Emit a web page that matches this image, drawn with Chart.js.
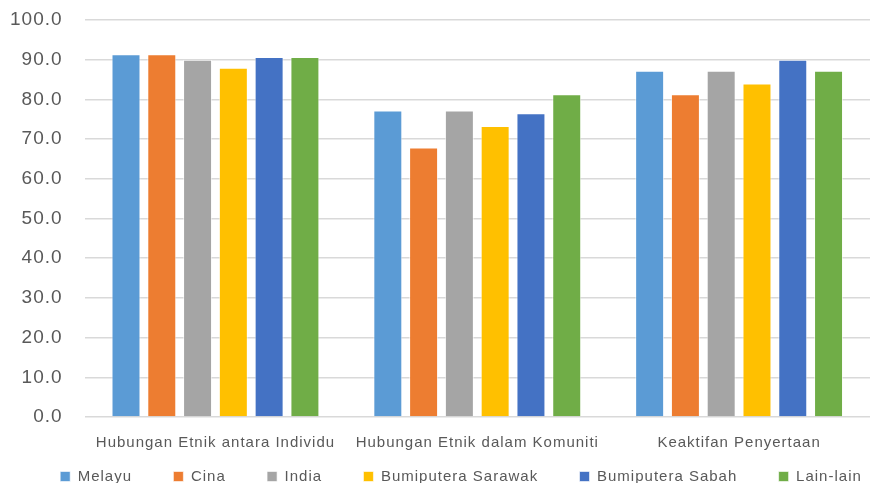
<!DOCTYPE html>
<html>
<head>
<meta charset="utf-8">
<script src="https://cdn.jsdelivr.net/npm/chart.js@4/dist/chart.umd.min.js"></script>
<style>
  html, body { margin: 0; padding: 0; background: #fff; }
  #wrap { width: 877px; height: 483px; }
</style>
</head>
<body>
<div id="wrap"><canvas id="chart"></canvas></div>
<script>
// categories and series
var categories = ['Hubungan Etnik antara Individu', 'Hubungan Etnik dalam Komuniti', 'Keaktifan Penyertaan'];
var seriesNames = ['Melayu', 'Cina', 'India', 'Bumiputera Sarawak', 'Bumiputera Sabah', 'Lain-lain'];
var melayu   = [91.4, 77.2, 87.2];
var cina     = [91.4, 67.9, 81.3];
var india    = [90.0, 77.2, 87.2];
var sarawak  = [88.0, 73.3, 84.0];
var sabah    = [90.7, 76.5, 90.0];
var lainLain = [90.7, 81.3, 87.2];
var colors = ['#5B9BD5', '#ED7D31', '#A5A5A5', '#FFC000', '#4472C4', '#70AD47'];

var values = [melayu, cina, india, sarawak, sabah, lainLain];
var datasets = seriesNames.map(function (name, i) {
  return {
    label: name,
    data: values[i],
    backgroundColor: colors[i],
    borderColor: 'rgba(255,255,255,0.6)',
    borderWidth: 1,
    categoryPercentage: 0.82,
    barPercentage: 0.81
  };
});

// the original text is set loosely, so widen letters a little
var spacing = {
  id: 'spacing',
  beforeUpdate: function (chart) { chart.ctx.letterSpacing = '1px'; },
  beforeDraw: function (chart) { chart.ctx.letterSpacing = '1px'; }
};

// push the legend row a bit to the right, like the original
var legendShift = {
  id: 'legendShift',
  afterLayout: function (chart) {
    chart.legend.left += 32;
    chart.legend.right += 32;
  }
};

var gap = '\u00A0\u00A0\u00A0\u00A0\u00A0\u00A0\u00A0\u00A0';

new Chart(document.getElementById('chart'), {
  type: 'bar',
  data: { labels: categories, datasets: datasets },
  plugins: [spacing, legendShift],
  options: {
    responsive: true,
    maintainAspectRatio: false,
    animation: false,
    layout: { padding: { left: -12, right: 7, top: 20, bottom: -11 } },
    plugins: {
      legend: {
        position: 'bottom',
        labels: {
          boxWidth: 10,
          boxHeight: 10,
          padding: 0,
          color: '#595959',
          font: { family: 'Liberation Sans', size: 15 },
          generateLabels: function (chart) {
            var items = Chart.defaults.plugins.legend.labels.generateLabels(chart);
            items.forEach(function (it, i) {
              if (i < items.length - 1) it.text = it.text + gap;
            });
            return items;
          }
        }
      },
      tooltip: { enabled: false }
    },
    scales: {
      x: {
        grid: { display: false, drawTicks: false },
        border: { display: false },
        ticks: {
          color: '#595959',
          padding: 17,
          font: { family: 'Liberation Sans', size: 15 }
        }
      },
      y: {
        min: 0,
        max: 100,
        grid: { color: '#D9D9D9', lineWidth: 1.5, drawTicks: false },
        border: { display: false },
        afterFit: function (scale) {
          scale.paddingTop = 0;
          scale.paddingBottom = 0;
        },
        ticks: {
          stepSize: 10,
          padding: 22,
          color: '#595959',
          font: { family: 'Liberation Sans', size: 19 },
          callback: function (v) { return v.toFixed(1); }
        }
      }
    }
  }
});
</script>
</body>
</html>
